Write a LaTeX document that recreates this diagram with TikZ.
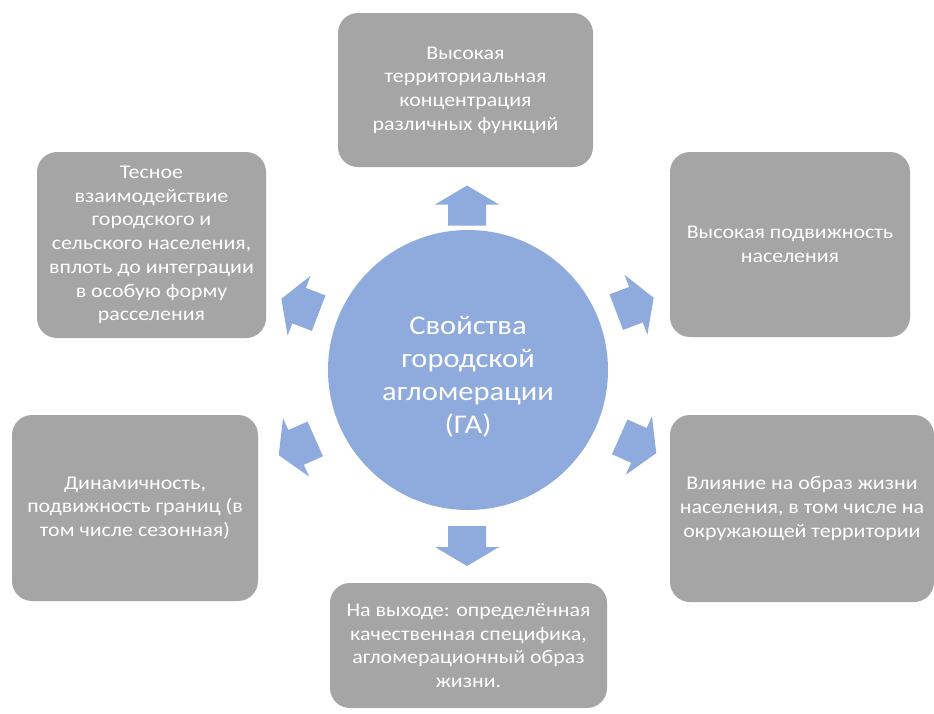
\documentclass[tikz,border=0pt]{standalone}
\usepackage{fontspec}
\setmainfont{Carlito}[FakeStretch=1.13]
\definecolor{boxgrey}{RGB}{166,165,165}
\definecolor{accblue}{RGB}{143,170,220}
\begin{document}
\begin{tikzpicture}[x=1pt,y=-1pt,
  gbox/.style={fill=boxgrey, rounded corners=20pt, text=white, align=center,
    font=\fontsize{19.4}{23.7}\selectfont, inner sep=4pt},
  hub/.style={circle, fill=accblue, minimum size=280pt, inner sep=0pt},
  hubtext/.style={text=white, align=center, font=\fontsize{27}{33}\selectfont, inner sep=0pt}]
\useasboundingbox (0,0) rectangle (934,713);
\fill[white] (0,0) rectangle (934,713);

\node[hub] (c) at (468,370) {};
\node[hubtext] (ct) at ([yshift=-7pt]c.center) {Свойства\\городской\\агломерации\\(ГА)};

\node[gbox, minimum width=255pt, minimum height=154pt] (t) at (465.5,90)
  {Высокая\\территориальная\\концентрация\\различных функций};
\node[gbox, minimum width=229pt, minimum height=186pt] (ul) at (151.5,245)
  {Тесное\\взаимодействие\\городского и\\сельского населения,\\вплоть до интеграции\\в особую форму\\расселения};
\node[gbox, minimum width=240pt, minimum height=185pt] (ur) at (790,244.5)
  {Высокая подвижность\\населения};
\node[gbox, minimum width=246pt, minimum height=186pt] (ll) at (135,508)
  {Динамичность,\\подвижность границ (в\\том числе сезонная)};
\node[gbox, minimum width=264pt, minimum height=187pt] (lr) at (802,508.5)
  {Влияние на образ жизни\\населения, в том числе на\\окружающей территории};
\node[gbox, minimum width=277pt, minimum height=125pt] (b) at (468.5,645.5)
  {На выходе: определённая\\качественная специфика,\\агломерационный образ\\жизни.};

\foreach \cx/\cy/\ang in {467/205.5/90, 467/546/-90, 300/306/159, 297/447/204, 635/305/21, 638/445/-24}{
  \begin{scope}[shift={(\cx,\cy)}, rotate=\ang]
    \fill[accblue] (-20,-19) -- (1,-19) -- (1,-32) -- (20,0) -- (1,32) -- (1,19) -- (-20,19) -- cycle;
  \end{scope}
}
\end{tikzpicture}
\end{document}
